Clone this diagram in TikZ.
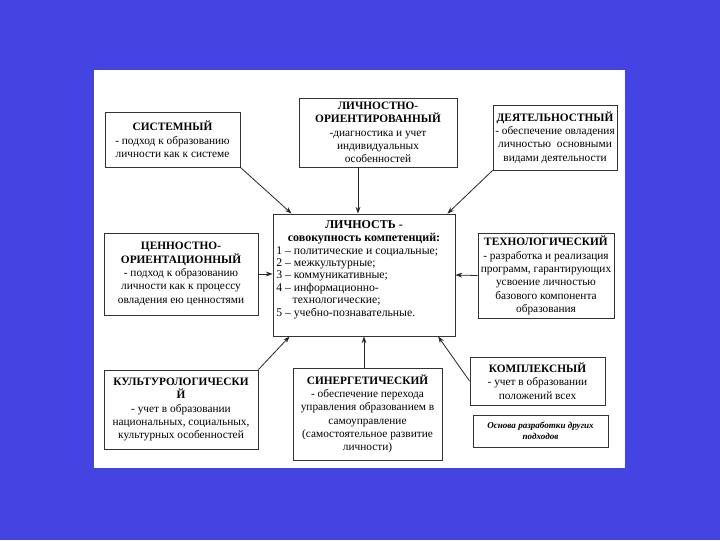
\documentclass[tikz,border=0pt]{standalone}
\usepackage{fontspec}
\setmainfont{Liberation Serif}
\usetikzlibrary{arrows.meta,calc}
\definecolor{bgblue}{RGB}{68,68,226}
\begin{document}
\begin{tikzpicture}[x=0.75pt,y=-0.75pt,
  box/.style={draw=black!80, line width=0.7pt, fill=white, align=center, inner sep=1pt,
    font=\fontsize{8.5}{10}\selectfont},
  arr/.style={-{Stealth[length=5pt,width=3.6pt]}, line width=0.6pt, black!85}]
\fill[bgblue] (0,0) rectangle (720,540);
\fill[white] (94,70) rectangle (625,468);
\useasboundingbox (0,0) rectangle (720,540);

\node[box, minimum width=101.25pt, minimum height=41.25pt] (b1) at (172.5,139.5)
  {\textbf{СИСТЕМНЫЙ}\\- подход к образованию\\личности как к системе};
\node[box, minimum width=118.5pt, minimum height=51.75pt] (b2) at (378,132.5)
  {\textbf{ЛИЧНОСТНО-}\\\textbf{ОРИЕНТИРОВАННЫЙ}\\-диагностика и учет\\индивидуальных\\особенностей};
\node[box, minimum width=93pt, minimum height=48.75pt] (b3) at (555,137.5)
  {\textbf{ДЕЯТЕЛЬНОСТНЫЙ}\\- обеспечение овладения\\личностью\enspace основными\\видами деятельности};

\node[box, minimum width=136.5pt, minimum height=91.5pt] (c) at (364,275) {};
\node[anchor=north, align=center, inner sep=0pt, font=\fontsize{9}{10}\selectfont\bfseries] (ct) at (364,220)
  {ЛИЧНОСТЬ -\\совокупность компетенций:};
\node[anchor=north west, align=left, inner sep=0pt, font=\fontsize{8.8}{9.3}\selectfont] (cl) at (276,246)
  {1 – политические и социальные;\\2 – межкультурные;\\3 – коммуникативные;\\4 – информационно-\\\hspace*{1.4em}технологические;\\5 – учебно-познавательные.};

\node[box, minimum width=115.5pt, minimum height=61.5pt] (b5) at (181,274)
  {\textbf{ЦЕННОСТНО-}\\\textbf{ОРИЕНТАЦИОННЫЙ}\\- подход к образованию\\личности как к процессу\\овладения ею ценностями};
\node[box, minimum width=102pt, minimum height=63.75pt] (b6) at (546,275.5)
  {\textbf{ТЕХНОЛОГИЧЕСКИЙ}\\- разработка и реализация\\программ, гарантирующих\\усвоение личностью\\базового компонента\\образования};
\node[box, minimum width=115.5pt, minimum height=59.25pt] (b7) at (181,409.5)
  {\textbf{КУЛЬТУРОЛОГИЧЕСКИ}\\\textbf{Й}\\- учет в образовании\\национальных, социальных,\\культурных особенностей};
\node[box, minimum width=111.75pt, minimum height=69pt] (b8) at (367.5,414)
  {\textbf{СИНЕРГЕТИЧЕСКИЙ}\\- обеспечение перехода\\управления образованием в\\самоуправление\\(самостоятельное развитие\\личности)};
\node[box, minimum width=101.25pt, minimum height=36pt] (b9) at (537.5,381)
  {\textbf{КОМПЛЕКСНЫЙ}\\- учет в образовании\\положений всех};
\node[box, minimum width=101.25pt, minimum height=24pt, font=\fontsize{6.8}{8.5}\selectfont\bfseries\itshape] (b10) at (540.5,431)
  {Основа разработки других\\подходов};

\draw[arr] (b1.south east) -- ([xshift=14.25pt]c.north west);
\draw[arr] ([xshift=-15pt]b2.south) -- ([xshift=-4.5pt]c.north);
\draw[arr] (b3.south west) -- ([xshift=-6pt]c.north east);
\draw[arr] (b5.east) -- (b5.east -| c.west);
\draw[arr] (b6.west) -- (c.east);
\draw[arr] (b7.north east) -- ([xshift=12.75pt]c.south west);
\draw[arr] (c.south |- b8.north) -- (c.south);
\draw[arr] (b9.west) -- ([xshift=-13pt]c.south east);
\end{tikzpicture}
\end{document}
